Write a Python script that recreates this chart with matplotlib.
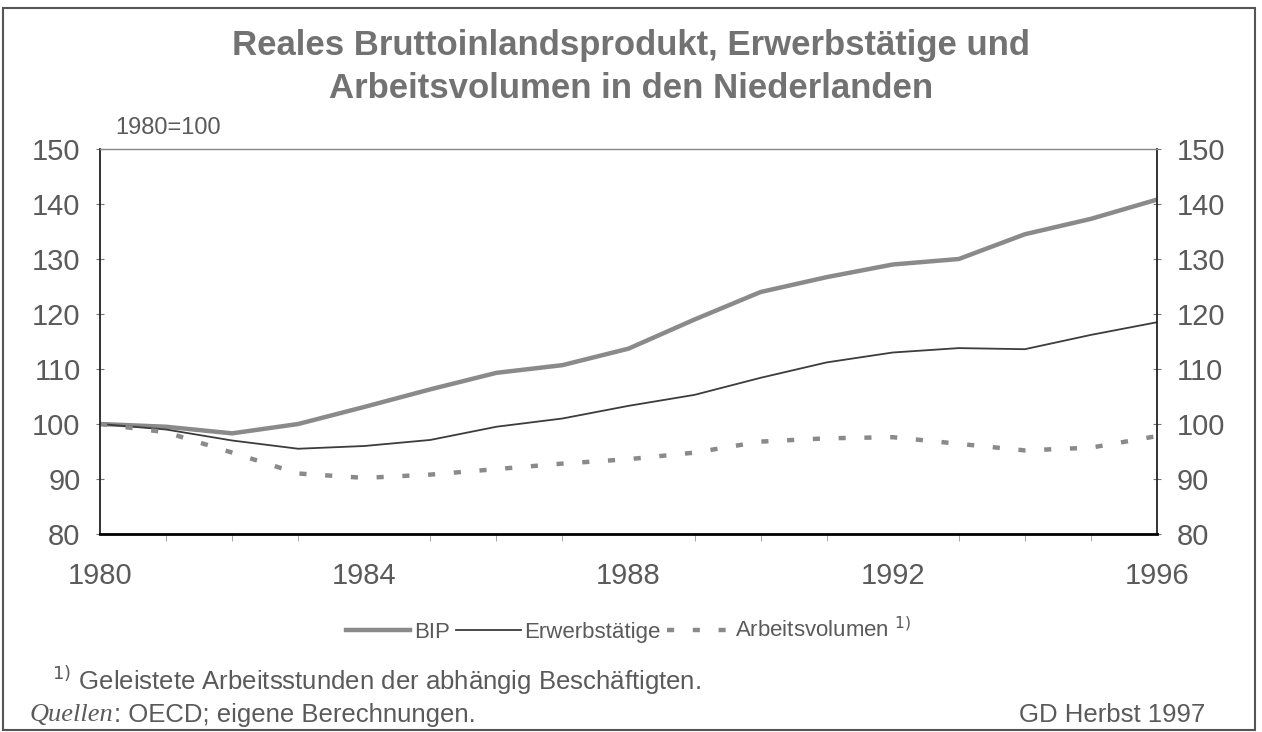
import matplotlib
matplotlib.use('Agg')
import matplotlib.pyplot as plt
from matplotlib.patches import Rectangle

plt.rcParams['font.family'] = ['Liberation Sans', 'DejaVu Sans']

years = list(range(1980, 1997))
bip = [100, 99.5, 98.3, 100.0, 103.1, 106.3, 109.3, 110.7, 113.7, 119.0,
       124.0, 126.7, 129.0, 130.0, 134.5, 137.3, 140.8]
erwerb = [100, 99.0, 97.0, 95.5, 96.0, 97.1, 99.5, 101.0, 103.3, 105.3,
          108.4, 111.2, 113.0, 113.8, 113.6, 116.2, 118.5]
arbeitsvol = [100, 98.5, 94.8, 91.0, 90.2, 90.8, 91.8, 92.8, 93.6, 94.8,
              96.8, 97.4, 97.6, 96.4, 95.2, 95.7, 97.8]

yticks = [80, 90, 100, 110, 120, 130, 140, 150]
xticks = [1980, 1984, 1988, 1992, 1996]

grey_txt = '#5a5a5a'

fig = plt.figure(figsize=(12.62, 7.32), dpi=100)
ax = fig.add_axes([100 / 1262, 1 - 534 / 732, 1057 / 1262, 385 / 732])

ax.plot(years, bip, color='#8a8a8a', lw=3.2, solid_joinstyle='round')
ax.plot(years, erwerb, color='#3c3c3c', lw=1.3)
ax.plot(years, arbeitsvol, color='#8a8a8a', lw=3.2, dashes=(1.6, 4.2))

ax.set_xlim(1980, 1996)
ax.set_ylim(80, 150)
ax.set_yticks(yticks)
ax.set_xticks(xticks)
ax.set_xticks(years, minor=True)

ax.spines['top'].set_color('#888888')
ax.spines['top'].set_linewidth(1.0)
ax.spines['top'].set_linestyle((0, (1, 1)))
ax.spines['bottom'].set_linewidth(2.0)
for s in ['left', 'right']:
    ax.spines[s].set_linewidth(1.3)
    ax.spines[s].set_color('#222222')

ax.tick_params(axis='y', which='major', left=True, right=True,
               labelleft=True, labelright=True, length=6, width=0.8,
               color='#777777', labelsize=21, labelcolor=grey_txt, pad=11)
ax.tick_params(axis='y', which='major', direction='inout', right=True)
ax.tick_params(axis='x', which='major', length=0, labelsize=21,
               labelcolor=grey_txt, pad=20)
ax.tick_params(axis='x', which='minor', length=5, width=0.6,
               color='#999999', direction='out')

fig.text(0.5, 1 - 46 / 732, 'Reales Bruttoinlandsprodukt, Erwerbstätige und',
         ha='center', va='center', fontsize=25, fontweight='bold', color='#727272')
fig.text(0.5, 1 - 88 / 732, 'Arbeitsvolumen in den Niederlanden',
         ha='center', va='center', fontsize=25, fontweight='bold', color='#727272')
fig.text(115 / 1262, 1 - 128 / 732, '1980=100', ha='left', va='center',
         fontsize=17, color=grey_txt)

# legend
leg = ax.legend(['BIP', 'Erwerbstätige', 'Arbeitsvolumen $^{1)}$'],
                loc='center', bbox_to_anchor=(0.5, (630 - 534) / -385),
                ncol=3, frameon=False, fontsize=16, handlelength=2.9,
                handletextpad=0.15, columnspacing=0.3, labelcolor=grey_txt)

fig.text(52 / 1262, 1 - 680 / 732, '$^{1)}$ Geleistete Arbeitsstunden der abhängig Beschäftigten.',
         ha='left', va='center', fontsize=18.5, color=grey_txt)
t1 = fig.text(30 / 1262, 1 - 715 / 732, 'Quellen', ha='left', va='center',
              fontsize=19, color=grey_txt, family='Liberation Serif', style='italic')
fig.canvas.draw()
bb = t1.get_window_extent()
fig.text(bb.x1 / 1262, 1 - 715 / 732, ': OECD; eigene Berechnungen.',
         ha='left', va='center', fontsize=18.5, color=grey_txt)
fig.text(1205 / 1262, 1 - 715 / 732, 'GD Herbst 1997', ha='right', va='center',
         fontsize=18.5, color=grey_txt)

fig.patches.append(Rectangle((3 / 1262, 2 / 732), 1252 / 1262, 722 / 732,
                             transform=fig.transFigure, fill=False,
                             edgecolor='#555555', lw=1.5))

fig.savefig('out.png', dpi=100)
